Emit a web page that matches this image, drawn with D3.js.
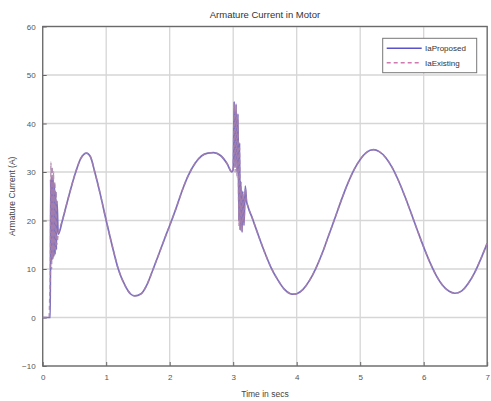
<!DOCTYPE html>
<html>
<head>
<meta charset="utf-8">
<script src="https://cdn.jsdelivr.net/npm/d3@7"></script>
<style>
  html, body { margin: 0; padding: 0; background: #fff; }
  svg { display: block; }
  text { font-family: "Liberation Sans", Arial, sans-serif; }
</style>
</head>
<body>
<svg id="chart" width="491" height="401"></svg>
<script>
// ---- data ----
const titleText = "Armature Current in Motor";
const xLabel = "Time in secs";
const yLabel = "Armature Current (A)";
const seriesNames = ["IaProposed", "IaExisting"];
const xTicks = [0, 1, 2, 3, 4, 5, 6, 7];
const yTicks = [-10, 0, 10, 20, 30, 40, 50, 60];

const timeProposed = [0, 0.12, 0.125, 0.135, 0.145, 0.155, 0.165, 0.175, 0.185, 0.195, 0.205, 0.215, 0.225, 0.245,
  0.31, 0.4, 0.52, 0.6, 0.69, 0.75, 0.82, 0.9, 1.0, 1.1, 1.19, 1.3, 1.38, 1.45, 1.55, 1.65, 1.74,
  1.85, 1.95, 2.03, 2.1, 2.2, 2.29, 2.4, 2.5, 2.6, 2.69, 2.8, 2.9, 2.98, 3.0, 3.015, 3.03, 3.045, 3.06, 3.075, 3.09,
  3.1, 3.11, 3.12, 3.14, 3.15, 3.17, 3.19, 3.21, 3.23, 3.3, 3.42, 3.5, 3.6, 3.7, 3.8, 3.9, 3.95, 4.0, 4.1, 4.2,
  4.3, 4.4, 4.5, 4.6, 4.7, 4.8, 4.9, 5.0, 5.1, 5.21, 5.3, 5.4, 5.5, 5.6, 5.7, 5.8, 5.9, 6.0, 6.1, 6.2, 6.3,
  6.4, 6.49, 6.6, 6.7, 6.8, 6.9, 7.0];
const currentProposed = [0, 0, 28.5, 11.5, 29, 12, 28.5, 12.5, 27.5, 13, 26, 14, 24, 17.2,
  20, 24.5, 30, 32.8, 33.9, 33.2, 30, 25.8, 20, 14.5, 10, 6.5, 4.9, 4.45, 4.9, 7, 10,
  13.8, 17.3, 20, 22.5, 26.3, 29.2, 31.8, 33.3, 33.9, 34, 33.4, 31.8, 30, 30.5, 44.5, 31, 44, 30, 42, 20,
  36, 18, 28, 17.6, 26, 19, 27.1, 24, 23, 20.5, 16.1, 13.3, 10.2, 7.8, 5.9, 4.9, 4.8, 4.9, 5.8, 7.6,
  10.1, 13.2, 16.8, 20.4, 24.1, 27.5, 30.4, 32.6, 34.05, 34.6, 34.2, 33, 31, 28.3, 25.1, 21.6, 18, 14.5, 11.3, 8.6, 6.6,
  5.4, 5.0, 5.5, 7.0, 9.2, 12.1, 15.3];

const timeExisting = [0, 0.1, 0.11, 0.12, 0.13, 0.14, 0.15, 0.16, 0.17, 0.18, 0.19, 0.2, 0.21, 0.22, 0.245,
  0.31, 0.4, 0.52, 0.6, 0.69, 0.75, 0.82, 0.9, 1.0, 1.1, 1.19, 1.3, 1.38, 1.45, 1.55, 1.65, 1.74,
  1.85, 1.95, 2.03, 2.1, 2.2, 2.29, 2.4, 2.5, 2.6, 2.69, 2.8, 2.9, 2.98, 3.0, 3.015, 3.03, 3.045, 3.06, 3.075, 3.09,
  3.1, 3.11, 3.12, 3.14, 3.15, 3.17, 3.19, 3.21, 3.23, 3.3, 3.42, 3.5, 3.6, 3.7, 3.8, 3.9, 3.95, 4.0, 4.1, 4.2,
  4.3, 4.4, 4.5, 4.6, 4.7, 4.8, 4.9, 5.0, 5.1, 5.21, 5.3, 5.4, 5.5, 5.6, 5.7, 5.8, 5.9, 6.0, 6.1, 6.2, 6.3,
  6.4, 6.49, 6.6, 6.7, 6.8, 6.9, 7.0];
const currentExisting = [0, 0, 4, 8, 32, 10, 31, 12, 30, 13, 28, 14, 26, 15, 17.2,
  20, 24.5, 30, 32.8, 33.9, 33.2, 30, 25.8, 20, 14.5, 10, 6.5, 4.9, 4.45, 4.9, 7, 10,
  13.8, 17.3, 20, 22.5, 26.3, 29.2, 31.8, 33.3, 33.9, 34, 33.4, 31.8, 30, 31, 44, 30, 43.5, 29, 41, 19,
  35, 18, 27, 17.8, 25.5, 19.5, 26.5, 24, 23, 20.5, 16.1, 13.3, 10.2, 7.8, 5.9, 4.9, 4.8, 4.9, 5.8, 7.6,
  10.1, 13.2, 16.8, 20.4, 24.1, 27.5, 30.4, 32.6, 34.05, 34.6, 34.2, 33, 31, 28.3, 25.1, 21.6, 18, 14.5, 11.3, 8.6, 6.6,
  5.4, 5.0, 5.5, 7.0, 9.2, 12.1, 15.3];

// ---- layout ----
const m = { left: 42.7, right: 487.2, top: 26.5, bottom: 366 };
const svg = d3.select("#chart");

const x = d3.scaleLinear().domain([0, 7]).range([m.left, m.right]);
const y = d3.scaleLinear().domain([-10, 60]).range([m.bottom, m.top]);

// grid
svg.append("g").selectAll("line").data(xTicks).join("line")
  .attr("x1", d => x(d)).attr("x2", d => x(d))
  .attr("y1", m.top).attr("y2", m.bottom)
  .attr("stroke", "#d6d6d6").attr("stroke-width", 1.3);
svg.append("g").selectAll("line").data(yTicks).join("line")
  .attr("x1", m.left).attr("x2", m.right)
  .attr("y1", d => y(d)).attr("y2", d => y(d))
  .attr("stroke", "#d6d6d6").attr("stroke-width", 1.3);

// axes (MATLAB style, ticks inward)
const xAxis = d3.axisBottom(x).tickValues(xTicks).tickSize(-4).tickPadding(8).tickFormat(d3.format("d"));
const yAxis = d3.axisLeft(y).tickValues(yTicks).tickSize(-4).tickPadding(7).tickFormat(d3.format("d"));
const gx = svg.append("g").attr("transform", `translate(0,${m.bottom})`).call(xAxis);
const gy = svg.append("g").attr("transform", `translate(${m.left},0)`).call(yAxis);
[gx, gy].forEach(g => {
  g.select(".domain").remove();
  g.selectAll(".tick line").attr("stroke", "#666");
  g.selectAll(".tick text").attr("fill", "#555").style("font-size", "8px");
});

// box
svg.append("rect").attr("x", m.left).attr("y", m.top)
  .attr("width", m.right - m.left).attr("height", m.bottom - m.top)
  .attr("fill", "none").attr("stroke", "#6a6a6a").attr("stroke-width", 1.3);

// lines
const line = d3.line().curve(d3.curveMonotoneX).x(d => x(d[0])).y(d => y(d[1]));
const dataP = timeProposed.map((t, i) => [t, currentProposed[i]]);
const dataE = timeExisting.map((t, i) => [t, currentExisting[i]]);

const plot = svg.append("g");
plot.append("path").datum(dataP).attr("d", line)
  .attr("fill", "none").attr("stroke", "#7e70bf").attr("stroke-width", 1.7)
  .attr("stroke-linejoin", "round");
plot.append("path").datum(dataE).attr("d", line)
  .attr("fill", "none").attr("stroke", "#a880a8").attr("stroke-width", 1.4)
  .attr("stroke-dasharray", "4,3").attr("stroke-opacity", 0.85);

// title & labels
svg.append("text").attr("x", (m.left + m.right) / 2).attr("y", 18)
  .attr("text-anchor", "middle").attr("fill", "#333").style("font-size", "9.5px").text(titleText);
svg.append("text").attr("x", (m.left + m.right) / 2).attr("y", 397)
  .attr("text-anchor", "middle").attr("fill", "#444").style("font-size", "8.5px").text(xLabel);
svg.append("text").attr("transform", `translate(15,${(m.top + m.bottom) / 2}) rotate(-90)`)
  .attr("text-anchor", "middle").attr("fill", "#444").style("font-size", "8.5px").text(yLabel);

// legend
const lg = svg.append("g");
lg.append("rect").attr("x", 382.7).attr("y", 38.3).attr("width", 94).attr("height", 34.4)
  .attr("fill", "#fff").attr("stroke", "#777").attr("stroke-width", 1);
const legColors = ["#5a52c8", "#d078b0"];
const legDash = [null, "4,3"];
seriesNames.forEach((name, i) => {
  const yy = 48.3 + i * 14.4;
  lg.append("line").attr("x1", 386.7).attr("x2", 421.7).attr("y1", yy).attr("y2", yy)
    .attr("stroke", legColors[i]).attr("stroke-width", 1.5)
    .attr("stroke-dasharray", legDash[i]);
  lg.append("text").attr("x", 425).attr("y", yy + 3).attr("fill", "#333")
    .style("font-size", "8px").text(name);
});
</script>
</body>
</html>
